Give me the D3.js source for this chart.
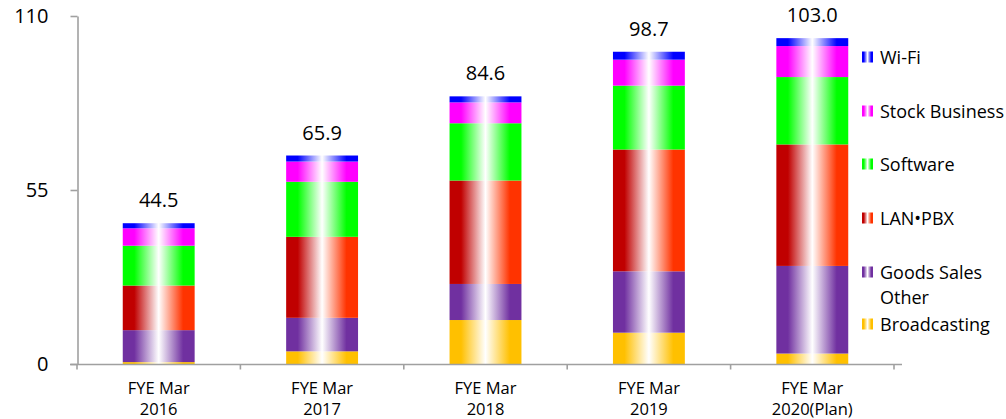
<!DOCTYPE html>
<html>
<head>
<meta charset="utf-8">
<script src="https://cdn.jsdelivr.net/npm/d3@7"></script>
<style>
  html, body { margin: 0; padding: 0; background: #fff; }
  svg { display: block; }
  text { font-family: "Open Sans", "Noto Sans", sans-serif; fill: #000; }
</style>
</head>
<body>
<svg id="chart" width="1006" height="419"></svg>
<script>
// Fiscal years shown on the x axis (two lines each)
const categories = ["FYE Mar 2016", "FYE Mar 2017", "FYE Mar 2018", "FYE Mar 2019", "FYE Mar 2020(Plan)"];
const categoryLines = [
  ["FYE Mar", "2016"],
  ["FYE Mar", "2017"],
  ["FYE Mar", "2018"],
  ["FYE Mar", "2019"],
  ["FYE Mar", "2020(Plan)"]
];

// Segment values, stacked bottom to top
const broadcasting = [0.6, 4.0, 13.9, 9.9, 3.3];
const goodsOther   = [10.1, 10.6, 11.4, 19.4, 27.7];
const lanPbx       = [14.1, 25.6, 32.7, 38.5, 38.4];
const software     = [12.6, 17.4, 18.1, 20.2, 21.3];
const stockBiz     = [5.5, 6.4, 6.6, 8.2, 9.8];
const wifi         = [1.6, 1.9, 1.9, 2.5, 2.5];

// Totals printed above each bar
const totals = [44.5, 65.9, 84.6, 98.7, 103.0];

const yTicks = [0, 55, 110];

const seriesKeys   = ["broadcasting", "goods", "lan", "software", "stock", "wifi"];
const seriesValues = [broadcasting, goodsOther, lanPbx, software, stockBiz, wifi];
const seriesNames  = ["Broadcasting", ["Goods Sales", "Other"], "LAN\u2022PBX", "Software", "Stock Business", "Wi-Fi"];
// left / right edge colours of each cylinder-like gradient
const seriesColors = [
  ["#FFC000", "#FFC000"],
  ["#7030A0", "#7030A0"],
  ["#C00000", "#FF3300"],
  ["#00FF00", "#00FF00"],
  ["#FF00FF", "#FF00FF"],
  ["#0000FF", "#0000FF"]
];

const rows = categories.map((c, i) => {
  const r = { category: c };
  seriesKeys.forEach((k, s) => r[k] = seriesValues[s][i]);
  return r;
});

const svg = d3.select("#chart");

const x = d3.scaleBand()
  .domain(categories)
  .range([77, 894])
  .paddingInner(0.56)
  .paddingOuter(0.28);

const y = d3.scaleLinear().domain([0, 110]).range([364, 16]);

// gradients
const defs = svg.append("defs");
seriesKeys.forEach((k, s) => {
  const [c0, c1] = seriesColors[s];
  const g = defs.append("linearGradient").attr("id", "grad-" + k)
    .attr("x1", 0).attr("x2", 1).attr("y1", 0).attr("y2", 0);
  g.append("stop").attr("offset", 0).attr("stop-color", c0);
  g.append("stop").attr("offset", 0.16).attr("stop-color", c0);
  g.append("stop").attr("offset", 0.5).attr("stop-color", "#FFFFFF");
  g.append("stop").attr("offset", 0.84).attr("stop-color", c1);
  g.append("stop").attr("offset", 1).attr("stop-color", c1);
});

// stacked bars
const stacked = d3.stack().keys(seriesKeys)(rows);
svg.append("g").selectAll("g")
  .data(stacked)
  .join("g")
  .attr("fill", d => "url(#grad-" + d.key + ")")
  .selectAll("rect")
  .data(d => d)
  .join("rect")
  .attr("x", d => x(d.data.category))
  .attr("width", x.bandwidth())
  .attr("y", d => y(d[1]))
  .attr("height", d => y(d[0]) - y(d[1]));

// axes
const axisColor = "#A0A0A0";
const yAxis = svg.append("g")
  .attr("transform", "translate(77.5,0)")
  .call(d3.axisLeft(y).tickValues(yTicks).tickSize(7).tickPadding(22).tickSizeOuter(0));
yAxis.select(".domain").attr("stroke", axisColor).attr("stroke-width", 1.6);
yAxis.selectAll(".tick line").attr("stroke", axisColor).attr("stroke-width", 1.6);
yAxis.selectAll(".tick text")
  .attr("font-family", "'Open Sans', sans-serif")
  .attr("font-size", 20)
  .attr("fill", "#000");

const xAxis = svg.append("g")
  .attr("transform", "translate(0,364.5)")
  .call(d3.axisBottom(x).tickSize(0).tickFormat(""));
xAxis.select(".domain").attr("stroke", axisColor).attr("stroke-width", 1.6)
  .attr("d", "M70,0H" + (x.range()[1] + 8));

// category boundary ticks
const step = x.step();
const boundaries = d3.range(categories.length + 1).map(i => x.range()[0] + i * step);
xAxis.selectAll("line.bound")
  .data(boundaries)
  .join("line")
  .attr("class", "bound")
  .attr("x1", d => d).attr("x2", d => d)
  .attr("y1", 0).attr("y2", 5)
  .attr("stroke", axisColor).attr("stroke-width", 1.6);

// category labels
const catLabels = svg.append("g").selectAll("text")
  .data(categories)
  .join("text")
  .attr("text-anchor", "middle")
  .attr("font-size", 16.5)
  .attr("x", d => x(d) + x.bandwidth() / 2)
  .attr("y", 394);
catLabels.selectAll("tspan")
  .data((d, i) => categoryLines[i])
  .join("tspan")
  .attr("x", function () { return d3.select(this.parentNode).attr("x"); })
  .attr("dy", (d, j) => j === 0 ? 0 : 21)
  .text(d => d);

// totals above bars
svg.append("g").selectAll("text")
  .data(categories)
  .join("text")
  .attr("text-anchor", "middle")
  .attr("font-size", 20)
  .attr("x", d => x(d) + x.bandwidth() / 2)
  .attr("y", (d, i) => y(totals[i]) - 16)
  .text((d, i) => totals[i].toFixed(1));

// legend (top entry first)
const legendY = [324, 272, 218, 164, 111, 57];
const legend = svg.append("g");
seriesKeys.forEach((k, s) => {
  const cy = legendY[s];
  legend.append("rect")
    .attr("x", 862).attr("y", cy - 5.5)
    .attr("width", 11).attr("height", 11)
    .attr("fill", "url(#grad-" + k + ")");
  const name = seriesNames[s];
  const t = legend.append("text")
    .attr("x", 880).attr("y", cy + 6.5)
    .attr("font-size", 18);
  if (Array.isArray(name)) {
    t.selectAll("tspan").data(name).join("tspan")
      .attr("x", 880).attr("dy", (d, j) => j === 0 ? 0 : 25)
      .text(d => d);
  } else {
    t.text(name);
  }
});
</script>
</body>
</html>
